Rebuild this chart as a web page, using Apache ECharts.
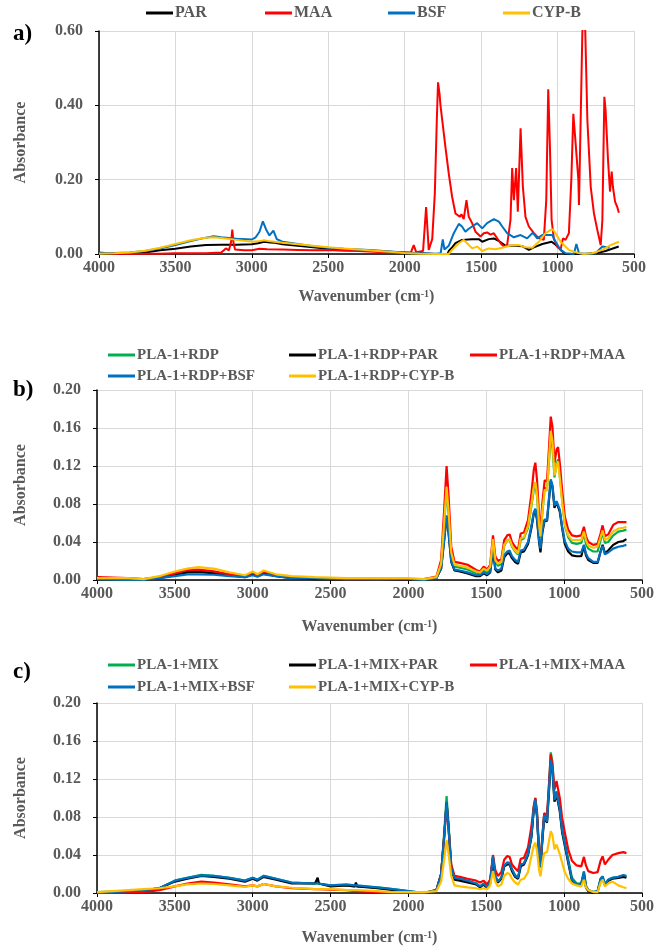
<!DOCTYPE html>
<html><head><meta charset="utf-8">
<script src="https://cdn.jsdelivr.net/npm/echarts@6/dist/echarts.min.js"></script>
<style>html,body{margin:0;padding:0;background:#fff}#c{width:666px;height:949px}</style>
</head><body><div id="c"></div>
<script>
// ---------- Panel a: [wavenumber, absorbance] ----------
const aPAR = [[4000,0.001],[3900,0.001],[3800,0.002],[3700,0.004],[3600,0.010],[3500,0.014],[3400,0.020],[3300,0.024],[3200,0.025],[3100,0.025],[3000,0.026],[2960,0.029],[2920,0.033],[2880,0.031],[2850,0.030],[2800,0.026],[2700,0.022],[2600,0.018],[2500,0.014],[2400,0.012],[2300,0.010],[2200,0.008],[2100,0.006],[2000,0.004],[1900,0.002],[1800,0.000],[1720,0.000],[1712,0.008],[1690,0.018],[1668,0.029],[1625,0.038],[1560,0.040],[1515,0.040],[1493,0.033],[1450,0.040],[1417,0.042],[1384,0.035],[1340,0.022],[1275,0.022],[1231,0.021],[1188,0.011],[1155,0.018],[1100,0.027],[1039,0.033],[1013,0.025],[980,0.011],[948,0.000],[880,0.000],[840,0.000],[750,0.002],[686,0.008],[600,0.020]];
const aMAA = [[4000,0.004],[3960,0.003],[3900,0.001],[3600,0.001],[3500,0.002],[3300,0.002],[3200,0.004],[3170,0.015],[3150,0.010],[3135,0.035],[3128,0.066],[3120,0.030],[3110,0.012],[3050,0.010],[3000,0.010],[2950,0.014],[2900,0.013],[2800,0.012],[2700,0.011],[2600,0.010],[2500,0.011],[2400,0.009],[2300,0.008],[2200,0.006],[2100,0.004],[2000,0.003],[1960,0.004],[1941,0.024],[1925,0.005],[1880,0.008],[1860,0.126],[1850,0.060],[1843,0.011],[1820,0.040],[1803,0.163],[1790,0.360],[1782,0.462],[1772,0.430],[1766,0.400],[1755,0.396],[1734,0.289],[1712,0.217],[1690,0.154],[1668,0.109],[1640,0.100],[1629,0.107],[1614,0.094],[1596,0.145],[1581,0.100],[1559,0.083],[1537,0.060],[1504,0.047],[1483,0.056],[1461,0.058],[1439,0.052],[1417,0.056],[1395,0.042],[1373,0.029],[1351,0.020],[1330,0.024],[1308,0.092],[1297,0.231],[1286,0.145],[1271,0.231],[1260,0.114],[1242,0.338],[1227,0.181],[1210,0.100],[1188,0.074],[1155,0.056],[1122,0.042],[1090,0.038],[1074,0.145],[1061,0.443],[1050,0.289],[1039,0.092],[1024,0.040],[1002,0.020],[980,0.012],[965,0.042],[948,0.038],[926,0.056],[910,0.200],[897,0.377],[886,0.320],[875,0.322],[864,0.200],[860,0.132],[849,0.360],[838,0.594],[831,0.650],[820,0.620],[805,0.360],[783,0.180],[762,0.109],[740,0.065],[718,0.024],[707,0.090],[694,0.423],[686,0.387],[670,0.253],[657,0.168],[646,0.222],[638,0.181],[624,0.141],[610,0.127],[599,0.111]];
const aBSF = [[4000,0.002],[3900,0.003],[3800,0.004],[3700,0.008],[3600,0.015],[3500,0.024],[3400,0.035],[3300,0.044],[3250,0.048],[3200,0.045],[3100,0.041],[3000,0.039],[2975,0.045],[2950,0.060],[2928,0.088],[2907,0.066],[2885,0.050],[2859,0.063],[2837,0.040],[2800,0.033],[2700,0.027],[2600,0.021],[2500,0.017],[2400,0.014],[2300,0.012],[2200,0.010],[2100,0.007],[2000,0.004],[1900,0.002],[1800,0.001],[1765,0.002],[1751,0.039],[1740,0.012],[1712,0.022],[1679,0.056],[1646,0.081],[1625,0.074],[1603,0.060],[1581,0.068],[1559,0.074],[1526,0.083],[1493,0.069],[1461,0.083],[1417,0.094],[1384,0.087],[1362,0.074],[1330,0.056],[1286,0.045],[1242,0.051],[1199,0.042],[1162,0.057],[1133,0.042],[1100,0.051],[1068,0.051],[1035,0.051],[1013,0.033],[980,0.011],[948,0.002],[893,0.000],[877,0.027],[860,0.002],[816,0.000],[751,0.002],[707,0.020],[680,0.018],[660,0.017]];
const aCYPB = [[4000,0.001],[3900,0.002],[3800,0.004],[3700,0.009],[3600,0.017],[3500,0.027],[3400,0.037],[3300,0.044],[3250,0.045],[3200,0.043],[3100,0.038],[3000,0.033],[2960,0.034],[2920,0.037],[2880,0.034],[2800,0.030],[2700,0.026],[2600,0.022],[2500,0.018],[2400,0.015],[2300,0.012],[2200,0.009],[2100,0.006],[2000,0.003],[1900,0.001],[1800,0.000],[1712,0.000],[1690,0.011],[1646,0.029],[1614,0.038],[1592,0.029],[1559,0.015],[1526,0.020],[1493,0.008],[1450,0.015],[1406,0.013],[1362,0.017],[1308,0.023],[1253,0.024],[1210,0.018],[1166,0.017],[1122,0.033],[1079,0.056],[1035,0.067],[1013,0.056],[980,0.033],[926,0.011],[871,0.003],[827,0.000],[773,0.002],[707,0.011],[653,0.024],[599,0.033]];

// ---------- Panel b: shared wavenumbers ----------
const wnB = [4000,3800,3700,3600,3500,3420,3350,3250,3150,3050,3000,2970,2930,2850,2750,2600,2400,2200,2000,1900,1820,1790,1770,1755,1742,1725,1704,1670,1620,1565,1540,1517,1495,1475,1457,1442,1425,1403,1385,1365,1350,1335,1315,1296,1279,1258,1232,1210,1195,1185,1174,1161,1152,1140,1125,1110,1097,1086,1075,1062,1049,1039,1028,1013,996,974,950,920,890,873,860,845,813,785,766,753,738,717,685,652,620,600];
const bRDP = [.002,.001,.001,.003,.006,.009,.0095,.008,.006,.004,.007,.005,.008,.005,.003,.002,.002,.001,.001,.001,.002,.016,.060,.095,.070,.027,.014,.013,.011,.007,.006,.010,.008,.012,.041,.019,.015,.017,.036,.042,.042,.035,.030,.027,.042,.044,.055,.078,.095,.100,.088,.057,.045,.070,.097,.096,.125,.150,.140,.108,.122,.127,.110,.085,.058,.045,.039,.038,.039,.049,.038,.033,.030,.030,.042,.050,.039,.040,.047,.051,.052,.053];
const bPAR = [.001,.001,.000,.002,.005,.008,.0085,.007,.005,.003,.006,.004,.007,.004,.002,.001,.001,.001,.000,.000,.002,.012,.043,.067,.049,.019,.010,.009,.007,.004,.004,.007,.005,.008,.032,.011,.008,.010,.024,.028,.028,.023,.019,.017,.029,.030,.038,.055,.070,.074,.063,.040,.029,.050,.063,.062,.085,.104,.098,.076,.082,.083,.072,.055,.038,.030,.026,.025,.025,.036,.026,.021,.018,.018,.030,.037,.028,.031,.037,.040,.041,.043];
const bMAA = [.003,.002,.001,.003,.007,.0105,.011,.009,.006,.004,.008,.005,.009,.005,.003,.002,.001,.001,.001,.001,.0035,.021,.075,.120,.088,.035,.019,.018,.016,.0105,.009,.014,.011,.016,.047,.025,.020,.022,.042,.047,.048,.040,.035,.032,.049,.050,.063,.091,.116,.1235,.105,.067,.053,.081,.105,.104,.140,.172,.161,.123,.137,.140,.123,.095,.067,.053,.047,.046,.047,.056,.046,.040,.037,.038,.049,.0575,.046,.048,.058,.061,.061,.061];
const bBSF = [.001,.000,.000,.002,.004,.006,.006,.0055,.004,.003,.005,.0035,.006,.004,.002,.002,.001,.001,.001,.000,.002,.012,.043,.068,.050,.020,.011,.010,.008,.005,.005,.008,.006,.009,.034,.012,.010,.012,.026,.030,.031,.025,.021,.019,.031,.032,.040,.057,.071,.075,.065,.042,.033,.052,.064,.063,.087,.106,.100,.078,.083,.085,.074,.056,.041,.033,.030,.029,.029,.037,.028,.023,.019,.019,.030,.036,.027,.029,.033,.035,.036,.037];
const bCYPB = [.002,.002,.001,.004,.009,.012,.0135,.012,.008,.005,.009,.006,.010,.006,.004,.003,.002,.002,.002,.001,.003,.017,.062,.098,.072,.029,.016,.015,.013,.009,.008,.012,.010,.014,.043,.021,.017,.019,.037,.042,.043,.036,.031,.028,.044,.045,.057,.080,.098,.103,.090,.058,.046,.072,.095,.094,.128,.157,.146,.110,.120,.125,.108,.083,.059,.047,.042,.042,.042,.051,.042,.036,.034,.035,.045,.052,.042,.044,.051,.054,.055,.056];

// ---------- Panel c: shared wavenumbers ----------
const wnC = [4000,3800,3700,3600,3500,3420,3330,3250,3150,3050,3000,2970,2930,2850,2750,2600,2590,2583,2575,2500,2400,2345,2337,2330,2200,2100,2000,1900,1820,1790,1770,1755,1742,1725,1704,1670,1620,1565,1540,1517,1495,1475,1457,1442,1425,1403,1385,1365,1350,1335,1315,1296,1279,1258,1232,1210,1195,1185,1174,1161,1152,1140,1128,1110,1097,1086,1075,1062,1049,1039,1028,1013,996,974,950,920,890,873,860,845,813,785,766,753,738,717,690,652,620,600];
const cMIX = [.001,.002,.003,.005,.013,.016,.019,.018,.016,.013,.016,.014,.018,.015,.011,.010,.010,.010,.010,.008,.008,.007,.007,.007,.006,.004,.002,.000,.003,.020,.064,.102,.072,.028,.015,.014,.012,.010,.007,.010,.006,.012,.038,.018,.012,.016,.029,.032,.032,.025,.019,.016,.030,.031,.041,.062,.090,.100,.083,.042,.029,.058,.083,.077,.115,.148,.138,.100,.107,.104,.090,.068,.054,.036,.016,.010,.010,.023,.008,.003,.001,.002,.015,.0175,.009,.014,.016,.017,.018,.017];
const cPAR = [.000,.002,.003,.005,.012,.015,.018,.017,.015,.012,.015,.013,.017,.014,.010,.010,.010,.016,.010,.007,.008,.007,.011,.007,.005,.003,.001,.000,.003,.020,.060,.095,.068,.025,.014,.013,.011,.009,.006,.009,.005,.010,.037,.016,.011,.015,.028,.030,.030,.023,.017,.015,.028,.030,.040,.059,.088,.097,.080,.040,.027,.055,.080,.074,.108,.139,.128,.096,.104,.102,.086,.064,.050,.032,.013,.009,.009,.020,.006,.002,.000,.001,.014,.016,.008,.013,.015,.016,.017,.016];
const cMAA = [.000,.001,.001,.003,.007,.010,.012,.011,.009,.007,.008,.007,.0095,.007,.005,.004,.004,.004,.004,.0035,.003,.002,.002,.002,.001,.000,.000,.000,.003,.020,.060,.093,.068,.030,.018,.017,.015,.013,.011,.013,.009,.014,.040,.024,.018,.022,.035,.039,.038,.030,.026,.023,.036,.037,.048,.070,.092,.100,.085,.045,.032,.060,.084,.082,.115,.146,.134,.109,.118,.117,.100,.079,.064,.046,.034,.029,.028,.038,.029,.023,.021,.022,.034,.0385,.030,.035,.040,.042,.043,.042];
const cBSF = [.000,.002,.003,.005,.013,.016,.0185,.018,.016,.013,.016,.014,.018,.015,.011,.010,.010,.010,.010,.008,.009,.008,.008,.008,.006,.004,.002,.000,.003,.020,.060,.096,.068,.026,.016,.015,.013,.010,.007,.010,.006,.012,.0385,.018,.012,.016,.029,.032,.031,.025,.018,.016,.030,.031,.041,.060,.089,.098,.081,.041,.028,.057,.082,.075,.110,.140,.130,.098,.106,.104,.088,.066,.052,.034,.014,.009,.010,.022,.007,.003,.001,.002,.015,.0175,.009,.014,.016,.017,.019,.018];
const cCYPB = [.001,.003,.004,.005,.007,.009,.010,.0095,.008,.0065,.008,.007,.0095,.007,.0055,.004,.004,.004,.004,.004,.003,.003,.003,.003,.002,.001,.001,.001,.002,.012,.036,.056,.041,.018,.008,.007,.006,.005,.004,.005,.004,.008,.023,.012,.007,.009,.018,.021,.020,.015,.011,.009,.014,.015,.022,.039,.050,.053,.044,.024,.0175,.032,.042,.043,.055,.065,.061,.046,.051,.050,.041,.032,.022,.015,.010,.008,.007,.014,.006,.003,.001,.001,.011,.014,.007,.010,.012,.008,.006,.005];

// ---------- names ----------
const namesA = ['PAR','MAA','BSF','CYP-B'];
const namesB = ['PLA-1+RDP','PLA-1+RDP+PAR','PLA-1+RDP+MAA','PLA-1+RDP+BSF','PLA-1+RDP+CYP-B'];
const namesC = ['PLA-1+MIX','PLA-1+MIX+PAR','PLA-1+MIX+MAA','PLA-1+MIX+BSF','PLA-1+MIX+CYP-B'];
const panelLabels = ['a)','b)','c)'];

const FONT = "'Liberation Serif','Times New Roman',serif";
const GREY = '#595959';
const COL = {green:'#00b050', black:'#000000', red:'#ff0000', blue:'#0070c0', yellow:'#ffc000'};
const zip = (w, v) => w.map((x, i) => [x, v[i]]);

const grids = [
  {left:99, width:535, top:31, height:223},
  {left:97, width:545, top:390, height:190},
  {left:97, width:545, top:703, height:190}
];
const nameGapsX = [35, 39, 37];
const nameGapsY = [70, 68, 68];
const yMax = [0.6, 0.2, 0.2];
const yInt = [0.2, 0.04, 0.04];

const xAxes = grids.map((g, i) => ({
  gridIndex: i, type: 'value', min: 500, max: 4000, interval: 500, inverse: true,
  axisLine: {show: true, onZero: false, lineStyle: {color: '#000', width: 1.5}},
  axisTick: {show: true, length: 4, lineStyle: {color: '#000', width: 1}},
  splitLine: {show: true, lineStyle: {color: '#d9d9d9', width: 1}},
  axisLabel: {fontFamily: FONT, fontWeight: 'bold', fontSize: 16, color: GREY, margin: 6,
    formatter: v => String(v)},
  name: 'Wavenumber (cm{sup|-1})', nameLocation: 'middle', nameGap: nameGapsX[i],
  nameTextStyle: {fontFamily: FONT, fontWeight: 'bold', fontSize: 16, color: GREY,
    rich: {sup: {fontFamily: FONT, fontWeight: 'bold', fontSize: 10, color: GREY, verticalAlign: 'top'}}}
}));
const yAxes = grids.map((g, i) => ({
  gridIndex: i, type: 'value', min: 0, max: yMax[i], interval: yInt[i], position: 'left',
  axisLine: {show: true, onZero: false, lineStyle: {color: '#000', width: 1.5}},
  axisTick: {show: true, length: 4, lineStyle: {color: '#000', width: 1}},
  splitLine: {show: true, lineStyle: {color: '#d9d9d9', width: 1}},
  axisLabel: {fontFamily: FONT, fontWeight: 'bold', fontSize: 16, color: GREY, margin: 16,
    formatter: v => v.toFixed(2)},
  name: 'Absorbance', nameLocation: 'middle', nameRotate: 90, nameGap: nameGapsY[i],
  nameTextStyle: {fontFamily: FONT, fontWeight: 'bold', fontSize: 16, color: GREY}
}));

function line(name, data, color, idx, w) {
  return {type: 'line', name, data, xAxisIndex: idx, yAxisIndex: idx, showSymbol: false,
    symbol: 'none', lineStyle: {color, width: w}, itemStyle: {color}, clip: true,
    emphasis: {disabled: true}};
}
const series = [
  line(namesA[0], aPAR, COL.black, 0, 2),
  line(namesA[1], aMAA, COL.red, 0, 2),
  line(namesA[2], aBSF, COL.blue, 0, 2),
  line(namesA[3], aCYPB, COL.yellow, 0, 2),
  line(namesB[0], zip(wnB, bRDP), COL.green, 1, 2.2),
  line(namesB[1], zip(wnB, bPAR), COL.black, 1, 2.2),
  line(namesB[2], zip(wnB, bMAA), COL.red, 1, 2.2),
  line(namesB[3], zip(wnB, bBSF), COL.blue, 1, 2.2),
  line(namesB[4], zip(wnB, bCYPB), COL.yellow, 1, 2.2),
  line(namesC[0], zip(wnC, cMIX), COL.green, 2, 2.2),
  line(namesC[1], zip(wnC, cPAR), COL.black, 2, 2.2),
  line(namesC[2], zip(wnC, cMAA), COL.red, 2, 2.2),
  line(namesC[3], zip(wnC, cBSF), COL.blue, 2, 2.2),
  line(namesC[4], zip(wnC, cCYPB), COL.yellow, 2, 2.2)
];

function leg(name, left, cy, fs) {
  const lh = 18;
  return {data: [name], left, top: cy - lh / 2, orient: 'horizontal', icon: 'rect',
    itemWidth: 27, itemHeight: 3, padding: 0, selectedMode: false,
    textStyle: {fontFamily: FONT, fontWeight: 'bold', fontSize: fs, color: GREY, lineHeight: lh, padding: [0,0,0,-3]}};
}
const legends = [
  leg(namesA[0], 146, 13, 16), leg(namesA[1], 265, 13, 16), leg(namesA[2], 388, 13, 16), leg(namesA[3], 503, 13, 16),
  leg(namesB[0], 108, 355, 15), leg(namesB[1], 289, 355, 15), leg(namesB[2], 470, 355, 15),
  leg(namesB[3], 108, 376, 15), leg(namesB[4], 289, 376, 15),
  leg(namesC[0], 108, 665, 15), leg(namesC[1], 289, 665, 15), leg(namesC[2], 470, 665, 15),
  leg(namesC[3], 108, 687, 15), leg(namesC[4], 289, 687, 15)
];
const labelY = [35, 391, 673];
const graphic = panelLabels.map((t, i) => ({
  type: 'text', left: 13, top: labelY[i] - 12,
  style: {text: t, font: "bold 23px " + FONT, fill: '#000'}
}));

const chart = echarts.init(document.getElementById('c'), null, {renderer: 'canvas'});
chart.setOption({
  animation: false, backgroundColor: '#ffffff',
  grid: grids, xAxis: xAxes, yAxis: yAxes, series, legend: legends, graphic
});
</script></body></html>
